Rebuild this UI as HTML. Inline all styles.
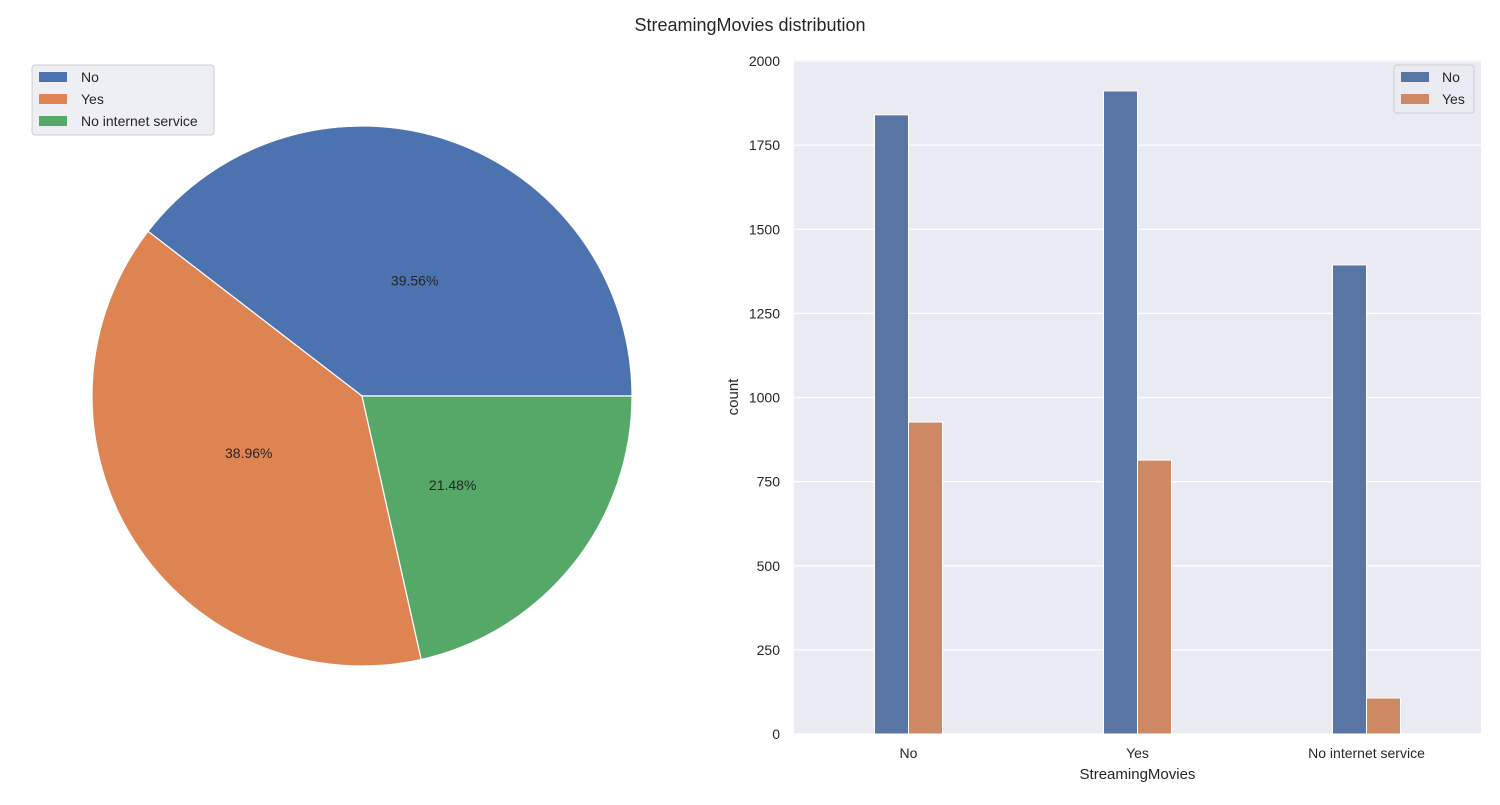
<!DOCTYPE html>
<html><head><meta charset="utf-8"><style>
body{margin:0;background:#fff;}
svg text{font-family:"Liberation Sans","DejaVu Sans",sans-serif;fill:#262626;}
</style></head><body>
<svg id="c" width="1500" height="800" viewBox="0 0 1500 800" xmlns="http://www.w3.org/2000/svg">
<text x="750" y="31" font-size="18" text-anchor="middle">StreamingMovies distribution</text>
<g id="pie"></g>
<g id="bar"></g>
</svg>
<script>
const pieLabels=["No","Yes","No internet service"];
const pieValues=[39.56,38.96,21.48];
const barCategories=["No","Yes","No internet service"];
const seriesNo=[1840,1911,1394];
const seriesYes=[927,814,107];
const yTicks=[0,250,500,750,1000,1250,1500,1750,2000];
const pieColors=["#4c72b0","#dd8452","#55a868"];
const barColors=["#5875a4","#cc8963"];
const NS="http://www.w3.org/2000/svg";
function mk(t,a,p){const e=document.createElementNS(NS,t);for(const k in a)e.setAttribute(k,a[k]);p.appendChild(e);return e;}
// Pie
const pie=document.getElementById('pie');
const cx=362,cy=396,R=270;
const tot=pieValues.reduce((a,b)=>a+b,0);
let ang=0;
pieValues.forEach((v,i)=>{
 const a0=ang,a1=ang+v/tot*2*Math.PI;ang=a1;
 const x0=cx+R*Math.cos(a0),y0=cy-R*Math.sin(a0),x1=cx+R*Math.cos(a1),y1=cy-R*Math.sin(a1);
 const large=(a1-a0)>Math.PI?1:0;
 const p=mk('path',{d:`M${cx},${cy}L${x0},${y0}A${R},${R} 0 ${large} 0 ${x1},${y1}Z`,fill:pieColors[i],stroke:'#fff','stroke-width':1.2},pie);
 
 
 const am=(a0+a1)/2-0.1;
 const t=mk('text',{x:cx+0.47*R*Math.cos(am),y:cy-0.47*R*Math.sin(am)+5,'font-size':14,'text-anchor':'middle'},pie);
 t.textContent=v.toFixed(2)+'%';
 
 
});
// pie legend
const pl=mk('g',{},pie);


mk('rect',{x:32,y:65,width:182,height:70,rx:3,fill:'#eaeaf2','fill-opacity':0.8,stroke:'#ccc'},pl);
pieLabels.forEach((l,i)=>{
 mk('rect',{x:39,y:72+i*22,width:28,height:10,fill:pieColors[i]},pl);
 const t=mk('text',{x:81,y:82+i*22,'font-size':14},pl);t.textContent=l;
 
 
});
// Bar
const bar=document.getElementById('bar');
const L=794,Rr=1481,T=60,B=734,ymax=2000;
const ys=v=>B-(v/ymax)*(B-T-1);
mk('rect',{x:L,y:T,width:Rr-L,height:B-T,fill:'#eaeaf2'},bar);
yTicks.forEach(v=>{
 mk('line',{x1:L,x2:Rr,y1:ys(v),y2:ys(v),stroke:'#fff','stroke-width':1.2},bar);
 const t=mk('text',{x:780,y:ys(v)+5,'font-size':14,'text-anchor':'end'},bar);t.textContent=v;
 
 
});
const band=(Rr-L)/barCategories.length;
const bw=34;
barCategories.forEach((c,i)=>{
 const xc=L+band*(i+0.5);
 [seriesNo,seriesYes].forEach((s,j)=>{
  const r=mk('rect',{x:xc-bw+j*bw,y:ys(s[i]),width:bw,height:B-ys(s[i]),fill:barColors[j],stroke:'#fff','stroke-width':1},bar);
  
  
 });
 const t=mk('text',{x:xc,y:758,'font-size':14,'text-anchor':'middle'},bar);t.textContent=c;
 
 
});
const xt=mk('text',{x:(L+Rr)/2,y:779,'font-size':15,'text-anchor':'middle'},bar);xt.textContent='StreamingMovies';


const yt=mk('text',{x:738,y:397,'font-size':15,'text-anchor':'middle',transform:'rotate(-90 738 397)'},bar);yt.textContent='count';


const bl=mk('g',{},bar);


mk('rect',{x:1394,y:65,width:80,height:48,rx:3,fill:'#eaeaf2','fill-opacity':0.8,stroke:'#ccc'},bl);
["No","Yes"].forEach((l,i)=>{
 mk('rect',{x:1401,y:72+i*22,width:28,height:10,fill:barColors[i]},bl);
 const t=mk('text',{x:1442,y:82+i*22,'font-size':14},bl);t.textContent=l;
 
 
});
</script>
</body></html>
